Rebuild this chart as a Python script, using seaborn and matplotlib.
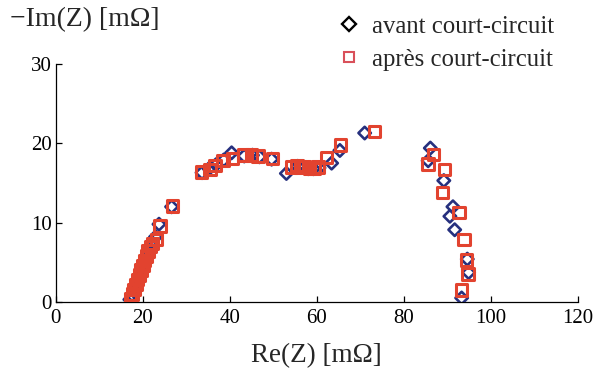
import matplotlib
matplotlib.use("Agg")
import matplotlib.pyplot as plt
import seaborn as sns
from matplotlib.lines import Line2D

# Nyquist data, real and negative imaginary parts in mOhm
re_avant = [17.0, 17.5, 17.9, 18.3, 18.7, 19.1, 19.5, 19.9, 20.3, 20.7, 21.1, 21.6, 22.1, 22.9, 23.7, 26.6,
            33.6, 35.2, 36.8, 38.6, 40.4, 43.3, 45.2, 46.8, 49.6,
            53.0, 55.6, 56.8, 58.0, 59.2, 60.5, 63.4, 65.3, 71.0,
            86.1, 85.6, 89.2, 91.3, 90.6, 91.7, 94.6, 94.9, 93.3]
im_avant = [0.3, 0.9, 1.5, 2.1, 2.7, 3.3, 3.9, 4.5, 5.1, 5.7, 6.3, 6.8, 7.5, 8.2, 9.8, 12.0,
            16.3, 16.8, 17.3, 17.9, 18.8, 18.4, 18.5, 18.3, 18.0,
            16.2, 17.1, 17.0, 16.8, 16.8, 16.9, 17.5, 19.1, 21.3,
            19.4, 17.8, 15.3, 12.0, 10.8, 9.1, 5.4, 3.7, 0.5]

re_apres = [17.2, 17.6, 18.0, 18.4, 18.8, 19.2, 19.6, 20.0, 20.4, 20.8, 21.2, 21.7, 22.2, 23.1, 23.9, 26.8,
            33.5, 35.4, 36.6, 38.4, 40.6, 43.1, 45.0, 46.5, 49.8,
            54.2, 55.4, 56.3, 57.2, 58.3, 59.3, 60.3, 62.2, 65.4, 73.3,
            86.8, 85.6, 89.4, 88.9, 92.7, 93.8, 94.4, 94.8, 93.3]
im_apres = [0.4, 1.0, 1.6, 2.2, 2.8, 3.4, 4.0, 4.6, 5.2, 5.8, 6.4, 7.0, 7.4, 7.9, 9.6, 12.1,
            16.4, 16.7, 17.2, 17.8, 18.1, 18.5, 18.5, 18.4, 18.1,
            17.0, 17.2, 17.0, 17.1, 16.9, 16.8, 17.0, 18.2, 19.8, 21.5,
            18.6, 17.4, 16.7, 13.8, 11.3, 7.9, 5.3, 3.5, 1.5]

series_labels = ["avant court-circuit", "après court-circuit"]
x_ticks = [0, 20, 40, 60, 80, 100, 120]
y_ticks = [0, 10, 20, 30]

sns.set_style("ticks")
plt.rcParams["font.family"] = ["Liberation Serif", "DejaVu Serif"]

navy = "#26307e"
red = "#e2432f"

fig = plt.figure(figsize=(5.95, 3.70), dpi=100)
ax = fig.add_axes([0.094, 0.184, 0.877, 0.643])

sns.scatterplot(x=re_avant, y=im_avant, ax=ax, marker="D", s=40,
                color=navy, facecolor="none", edgecolor=navy, linewidth=1.9, zorder=3)
sns.scatterplot(x=re_apres, y=im_apres, ax=ax, marker="s", s=68,
                color=red, facecolor="none", edgecolor=red, linewidth=2.2, zorder=4)

ax.set_xlim(0, 120)
ax.set_ylim(0, 30)
ax.set_xticks(x_ticks)
ax.set_yticks(y_ticks)
ax.tick_params(direction="in", length=4, width=0.9, labelsize=15, colors="black", pad=3)
ax.tick_params(axis="x", pad=5)
for side in ("top", "right"):
    ax.spines[side].set_visible(False)
for side in ("left", "bottom"):
    ax.spines[side].set_linewidth(0.9)
    ax.spines[side].set_color("black")

ax.set_xlabel("Re(Z) [mΩ]", fontsize=19.5, labelpad=11)
fig.text(0.017, 0.947, "−Im(Z) [mΩ]", fontsize=20, ha="left", va="center")

handles = [
    Line2D([], [], linestyle="none", marker="D", markersize=7.5, markerfacecolor="none",
           markeredgecolor="black", markeredgewidth=1.7),
    Line2D([], [], linestyle="none", marker="s", markersize=7.5, markerfacecolor="none",
           markeredgecolor="#d9505a", markeredgewidth=1.5),
]
fig.legend(handles, series_labels, loc="upper left", bbox_to_anchor=(0.545, 0.999),
           frameon=False, fontsize=17.8, handlelength=0.8, handletextpad=0.55,
           labelspacing=0.45, borderaxespad=0.2)

fig.savefig("out.png", dpi=100)
